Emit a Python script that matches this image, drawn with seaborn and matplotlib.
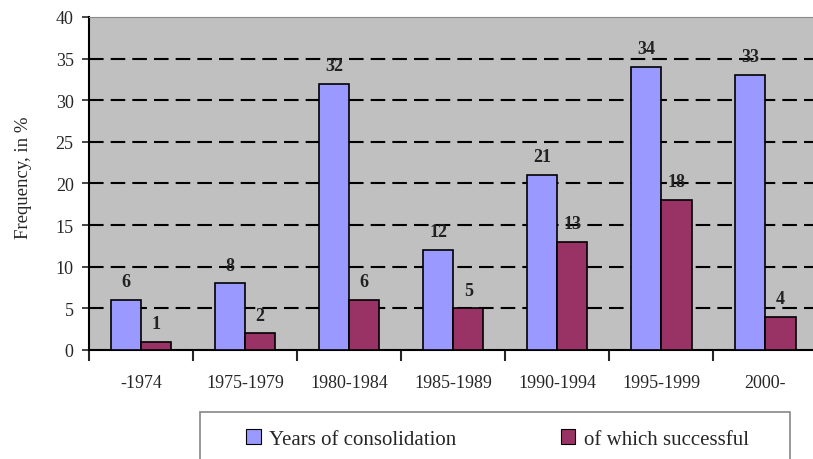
import matplotlib
matplotlib.use("Agg")
import matplotlib.pyplot as plt
import seaborn as sns
import pandas as pd
import numpy as np
from matplotlib.patches import Patch, Rectangle

# Daten
periods = ["-1974", "1975-1979", "1980-1984", "1985-1989", "1990-1994", "1995-1999", "2000-"]
consolidation = [6, 8, 32, 12, 21, 34, 33]
successful = [1, 2, 6, 5, 13, 18, 4]
series_names = ["Years of consolidation", "of which successful"]

df = pd.DataFrame({
    "period": periods * 2,
    "value": consolidation + successful,
    "series": [series_names[0]] * len(periods) + [series_names[1]] * len(periods),
})

sns.set_style("white")
plt.rcParams["font.family"] = ["Liberation Serif", "DejaVu Serif"]

palette = {series_names[0]: "#9999FF", series_names[1]: "#993366"}

fig = plt.figure(figsize=(8.13, 4.6), dpi=100)
ax = fig.add_axes([0.1095, 0.237, 0.896, 0.724])
ax.set_facecolor("#C0C0C0")

sns.barplot(
    data=df, x="period", y="value", hue="series",
    order=periods, hue_order=series_names, palette=palette,
    width=0.58, dodge=True, saturation=1, ax=ax,
    edgecolor="black", linewidth=1.2, legend=False, zorder=3,
)

# Werte über den Balken
for cont in ax.containers:
    ax.bar_label(cont, padding=7, fontsize=13, fontweight="semibold", color="#222222")

# Gestrichelte Gitterlinien
for yv in range(5, 40, 5):
    ax.axhline(yv, color="black", linewidth=1.5, dashes=(7, 3.4), zorder=1)

ax.set_ylim(0, 40)
ax.set_xlim(-0.5, len(periods) - 0.5)
ax.set_yticks(range(0, 45, 5))
ax.tick_params(axis="y", direction="out", length=5, width=1.2, labelsize=13, left=True, pad=6)

# Ticks an den Gruppengrenzen
ax.set_xticks(np.arange(len(periods)))
ax.set_xticklabels(periods)
ax.set_xticks(np.arange(-0.5, len(periods), 1.0), minor=True)
ax.tick_params(axis="x", which="major", length=0, labelsize=13, pad=17)
ax.tick_params(axis="x", which="minor", direction="out", length=8, width=1.5, bottom=True)

for s in ["left", "bottom"]:
    ax.spines[s].set_color("black")
    ax.spines[s].set_linewidth(1.5)
ax.spines["top"].set_color("#888888")
ax.spines["right"].set_visible(False)

ax.set_xlabel("")
ax.set_ylabel("Frequency, in %", fontsize=13.5)
ax.yaxis.set_label_coords(-0.078, 0.52)

# Legende (Rahmen separat)
fig.patches.append(Rectangle((200 / 813, -0.05), 590 / 813, 0.152, transform=fig.transFigure,
                             facecolor="white", edgecolor="#888888", linewidth=1.2))
handles = [Patch(facecolor=palette[n], edgecolor="black", linewidth=0.8) for n in series_names]
leg = fig.legend(
    handles, series_names, loc="center", bbox_to_anchor=(0.612, 1 - 440 / 460),
    ncol=2, frameon=False, fontsize=15,
    handlelength=0.7, handleheight=0.7, handletextpad=0.4, borderaxespad=0,
    columnspacing=5.0,
)

fig.savefig("out.png", dpi=100)
